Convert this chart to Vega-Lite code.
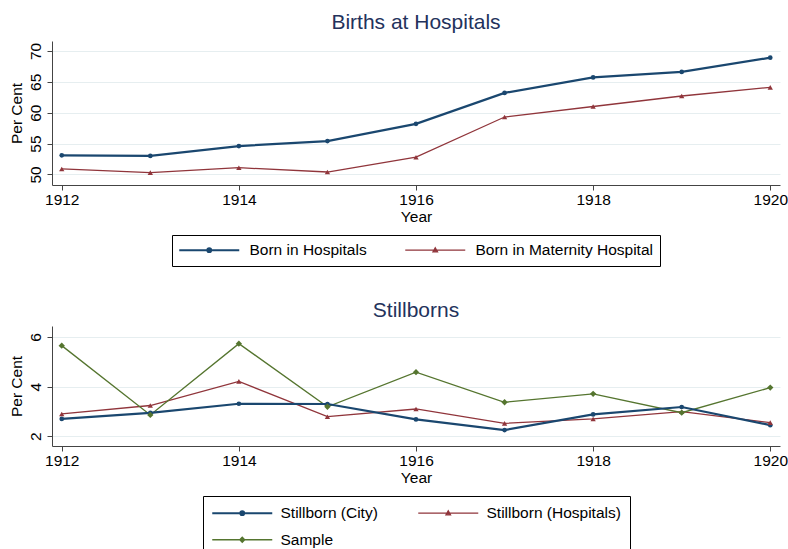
{
  "$schema": "https://vega.github.io/schema/vega-lite/v6.json",
  "padding": {"top": 12, "left": 9, "right": 0, "bottom": 5},
  "background": "#ffffff",
  "datasets": {
    "births": [
      {"series": "Born in Hospitals", "year": 1912, "value": 53.1},
      {"series": "Born in Hospitals", "year": 1913, "value": 53.0},
      {"series": "Born in Hospitals", "year": 1914, "value": 54.6},
      {"series": "Born in Hospitals", "year": 1915, "value": 55.4},
      {"series": "Born in Hospitals", "year": 1916, "value": 58.2},
      {"series": "Born in Hospitals", "year": 1917, "value": 63.2},
      {"series": "Born in Hospitals", "year": 1918, "value": 65.7},
      {"series": "Born in Hospitals", "year": 1919, "value": 66.6},
      {"series": "Born in Hospitals", "year": 1920, "value": 68.9},
      {"series": "Born in Maternity Hospital", "year": 1912, "value": 50.9},
      {"series": "Born in Maternity Hospital", "year": 1913, "value": 50.3},
      {"series": "Born in Maternity Hospital", "year": 1914, "value": 51.1},
      {"series": "Born in Maternity Hospital", "year": 1915, "value": 50.4},
      {"series": "Born in Maternity Hospital", "year": 1916, "value": 52.8},
      {"series": "Born in Maternity Hospital", "year": 1917, "value": 59.3},
      {"series": "Born in Maternity Hospital", "year": 1918, "value": 61.0},
      {"series": "Born in Maternity Hospital", "year": 1919, "value": 62.7},
      {"series": "Born in Maternity Hospital", "year": 1920, "value": 64.1}
    ],
    "still": [
      {"series": "Stillborn (City)", "year": 1912, "value": 2.70},
      {"series": "Stillborn (City)", "year": 1913, "value": 2.94},
      {"series": "Stillborn (City)", "year": 1914, "value": 3.31},
      {"series": "Stillborn (City)", "year": 1915, "value": 3.30},
      {"series": "Stillborn (City)", "year": 1916, "value": 2.68},
      {"series": "Stillborn (City)", "year": 1917, "value": 2.25},
      {"series": "Stillborn (City)", "year": 1918, "value": 2.88},
      {"series": "Stillborn (City)", "year": 1919, "value": 3.18},
      {"series": "Stillborn (City)", "year": 1920, "value": 2.45},
      {"series": "Stillborn (Hospitals)", "year": 1912, "value": 2.90},
      {"series": "Stillborn (Hospitals)", "year": 1913, "value": 3.24},
      {"series": "Stillborn (Hospitals)", "year": 1914, "value": 4.21},
      {"series": "Stillborn (Hospitals)", "year": 1915, "value": 2.79},
      {"series": "Stillborn (Hospitals)", "year": 1916, "value": 3.10},
      {"series": "Stillborn (Hospitals)", "year": 1917, "value": 2.52},
      {"series": "Stillborn (Hospitals)", "year": 1918, "value": 2.70},
      {"series": "Stillborn (Hospitals)", "year": 1919, "value": 2.99},
      {"series": "Stillborn (Hospitals)", "year": 1920, "value": 2.55},
      {"series": "Sample", "year": 1912, "value": 5.65},
      {"series": "Sample", "year": 1913, "value": 2.86},
      {"series": "Sample", "year": 1914, "value": 5.73},
      {"series": "Sample", "year": 1915, "value": 3.19},
      {"series": "Sample", "year": 1916, "value": 4.58},
      {"series": "Sample", "year": 1917, "value": 3.37},
      {"series": "Sample", "year": 1918, "value": 3.71},
      {"series": "Sample", "year": 1919, "value": 2.95},
      {"series": "Sample", "year": 1920, "value": 3.96}
    ]
  },
  "vconcat": [
    {
      "title": "Births at Hospitals",
      "width": 728,
      "height": 144,
      "data": {"name": "births"},
      "encoding": {
        "x": {"field": "year", "type": "quantitative", "title": "Year",
              "scale": {"domain": [1911.89, 1920.11], "nice": false, "zero": false},
              "axis": {"values": [1912, 1914, 1916, 1918, 1920], "format": "d"}},
        "y": {"field": "value", "type": "quantitative", "title": "Per Cent",
              "scale": {"domain": [48.3, 71.6], "nice": false, "zero": false},
              "axis": {"values": [50, 55, 60, 65, 70]}},
        "color": {"field": "series", "type": "nominal",
                  "scale": {"domain": ["Born in Hospitals", "Born in Maternity Hospital"], "range": ["#1a476f", "#90353b"]},
                  "legend": {"title": null, "orient": "bottom", "direction": "horizontal", "columns": 2,
                             "strokeColor": "#000000", "padding": 7, "offset": 10,
                             "labelFontSize": 15.5, "labelColor": "#000000", "labelLimit": 400,
                             "symbolSize": 225, "labelOffset": 55, "columnPadding": 35, "rowPadding": 10,
                             "encode": {"symbols": {"update": {
                               "shape": {"signal": "datum.index === 0 ? 'M-1,0L7,0M2.75,0A0.25,0.25 0 1,0 3.25,0A0.25,0.25 0 1,0 2.75,0Z' : datum.index === 1 ? 'M-1,0L7,0M3,-0.32L3.3,0.22L2.7,0.22Z' : 'M-1,0L7,0M3,-0.33L3.33,0L3,0.33L2.67,0Z'"},
                               "size": {"value": 225},
                               "fill": {"signal": "datum.index === 0 ? '#1a476f' : datum.index === 1 ? '#90353b' : '#55752f'"},
                               "stroke": {"signal": "datum.index === 0 ? '#1a476f' : datum.index === 1 ? '#90353b' : '#55752f'"},
                               "strokeWidth": {"signal": "datum.index === 0 ? 2 : 1.3"},
                               "opacity": {"value": 1}
                             }}}}}
      },
      "layer": [
        {"transform": [{"filter": "datum.series === 'Born in Maternity Hospital'"}],
         "mark": {"type": "line", "strokeWidth": 1.3}},
        {"transform": [{"filter": "datum.series === 'Born in Hospitals'"}],
         "mark": {"type": "line", "strokeWidth": 2.2}},
        {"transform": [{"filter": "datum.series === 'Born in Hospitals'"}],
         "mark": {"type": "point", "filled": true, "opacity": 1, "shape": "circle", "size": 22}},
        {"transform": [{"filter": "datum.series === 'Born in Maternity Hospital'"}],
         "mark": {"type": "point", "filled": true, "opacity": 1, "shape": "triangle-up", "size": 28}}
      ]
    },
    {
      "title": {"text": "Stillborns", "offset": 5},
      "width": 728,
      "height": 120,
      "data": {"name": "still"},
      "encoding": {
        "x": {"field": "year", "type": "quantitative", "title": "Year",
              "scale": {"domain": [1911.89, 1920.11], "nice": false, "zero": false},
              "axis": {"values": [1912, 1914, 1916, 1918, 1920], "format": "d"}},
        "y": {"field": "value", "type": "quantitative", "title": "Per Cent",
              "scale": {"domain": [1.61, 6.44], "nice": false, "zero": false},
              "axis": {"values": [2, 4, 6]}},
        "color": {"field": "series", "type": "nominal",
                  "scale": {"domain": ["Stillborn (City)", "Stillborn (Hospitals)", "Sample"], "range": ["#1a476f", "#90353b", "#55752f"]},
                  "legend": {"title": null, "orient": "bottom", "direction": "horizontal", "columns": 2,
                             "strokeColor": "#000000", "padding": 9, "offset": 10,
                             "labelFontSize": 15.5, "labelColor": "#000000", "labelLimit": 400,
                             "symbolSize": 225, "labelOffset": 53, "columnPadding": 37, "rowPadding": 10,
                             "encode": {"symbols": {"update": {
                               "shape": {"signal": "datum.index === 0 ? 'M-1,0L7,0M2.75,0A0.25,0.25 0 1,0 3.25,0A0.25,0.25 0 1,0 2.75,0Z' : datum.index === 1 ? 'M-1,0L7,0M3,-0.32L3.3,0.22L2.7,0.22Z' : 'M-1,0L7,0M3,-0.33L3.33,0L3,0.33L2.67,0Z'"},
                               "size": {"value": 225},
                               "fill": {"signal": "datum.index === 0 ? '#1a476f' : datum.index === 1 ? '#90353b' : '#55752f'"},
                               "stroke": {"signal": "datum.index === 0 ? '#1a476f' : datum.index === 1 ? '#90353b' : '#55752f'"},
                               "strokeWidth": {"signal": "datum.index === 0 ? 2 : 1.3"},
                               "opacity": {"value": 1}
                             }}}}}
      },
      "layer": [
        {"transform": [{"filter": "datum.series !== 'Stillborn (City)'"}],
         "mark": {"type": "line", "strokeWidth": 1.3}},
        {"transform": [{"filter": "datum.series === 'Stillborn (City)'"}],
         "mark": {"type": "line", "strokeWidth": 2.2}},
        {"transform": [{"filter": "datum.series === 'Stillborn (City)'"}],
         "mark": {"type": "point", "filled": true, "opacity": 1, "shape": "circle", "size": 22}},
        {"transform": [{"filter": "datum.series === 'Stillborn (Hospitals)'"}],
         "mark": {"type": "point", "filled": true, "opacity": 1, "shape": "triangle-up", "size": 28}},
        {"transform": [{"filter": "datum.series === 'Sample'"}],
         "mark": {"type": "point", "filled": true, "opacity": 1, "shape": "diamond", "size": 40}}
      ]
    }
  ],
  "resolve": {
    "scale": {"color": "independent"},
    "legend": {"color": "independent"}
  },
  "config": {
    "font": "Liberation Sans",
    "view": {"stroke": null},
    "concat": {"spacing": 33},
    "legend": {"layout": {"bottom": {"anchor": "middle"}}},
    "title": {"fontSize": 21, "fontWeight": "normal", "color": "#23325c", "anchor": "middle", "frame": "group", "baseline": "alphabetic", "offset": 8},
    "axis": {"labelFontSize": 15.5, "titleFontSize": 15.5, "titleFontWeight": "normal",
             "labelColor": "#000000", "titleColor": "#000000", "domainColor": "#444444", "tickColor": "#444444",
             "tickSize": 5, "gridColor": "#e6eef0", "gridWidth": 1, "labelFlush": false, "labelOverlap": false},
    "axisX": {"grid": false, "labelPadding": 2, "titlePadding": 2},
    "axisY": {"grid": true, "labelAngle": -90, "labelAlign": "center", "labelBaseline": "alphabetic", "labelPadding": 7, "titlePadding": 4}
  }
}
